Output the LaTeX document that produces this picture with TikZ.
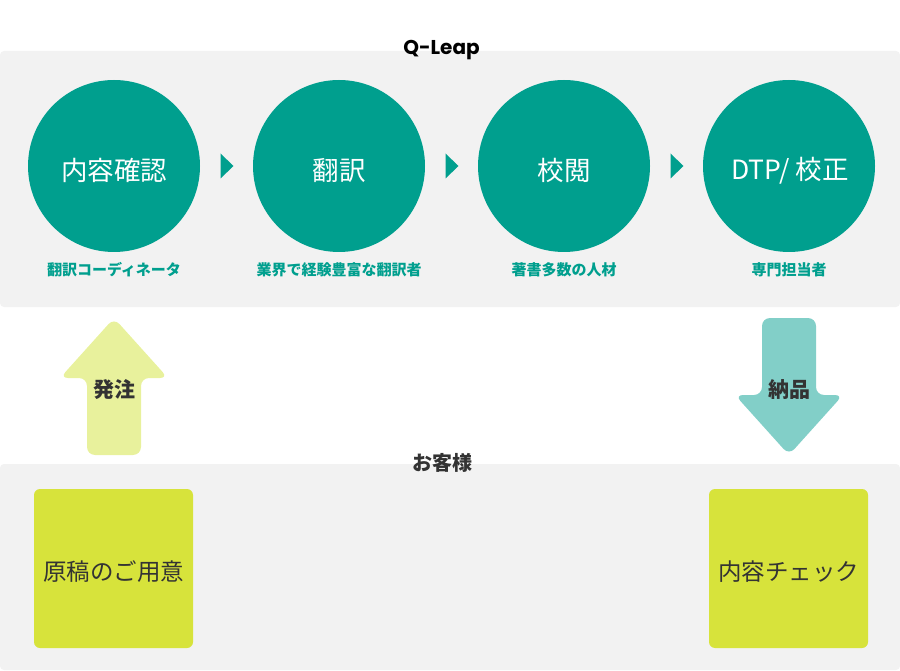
\documentclass[tikz,border=0pt]{standalone}
\usepackage{fontspec}
\setmainfont{Noto Sans CJK JP}
\newfontfamily\latinfont{Poppins}
\usetikzlibrary{calc}
\definecolor{teal1}{HTML}{009F8E}
\definecolor{tealL}{HTML}{82CFC8}
\definecolor{yelL}{HTML}{E8F19C}
\definecolor{yelB}{HTML}{D7E33B}
\definecolor{panelbg}{HTML}{F2F2F2}
\definecolor{darktxt}{HTML}{333333}
\tikzset{
  panel/.style={fill=panelbg, draw=none, rounded corners=4pt},
  stepcircle/.style={circle, fill=teal1, minimum size=172pt, inner sep=0pt},
  steptext/.style={text=white, inner sep=0pt, font=\fontsize{26.5}{30}\selectfont},
  sublabel/.style={text=teal1, font=\bfseries\fontsize{15}{18}\selectfont, inner sep=0pt},
  title/.style={text=black, font=\bfseries\fontsize{20}{24}\selectfont, inner sep=0pt},
  custbox/.style={fill=yelB, rounded corners=6pt, minimum size=159pt, inner sep=0pt},
  custtext/.style={text=darktxt, inner sep=0pt, font=\fontsize{23.5}{28}\selectfont},
  arrowlabel/.style={text=darktxt, font=\bfseries\fontsize{21}{24}\selectfont, inner sep=0pt},
  tri/.style={fill=teal1, draw=none},
}
\begin{document}
\begin{tikzpicture}[x=1pt, y=-1pt]
\useasboundingbox (0,0) rectangle (900,671);
% panels
\path[panel] (0,51) rectangle (900,307);
\path[panel] (0,464) rectangle (900,670);
\node[title] (qleap) at (441.5,50) {\latinfont\bfseries Q-Leap};
\node[title, text=darktxt] (cust) at (442,463) {お客様};
% circles
\node[stepcircle] (c1) at (114,166) {};
\node[stepcircle] (c2) at (339,166) {};
\node[stepcircle] (c3) at (564,166) {};
\node[stepcircle] (c4) at (789,166) {};
\node[steptext] (t1) at (114,170.5) {内容確認};
\node[steptext] (t2) at (339,170.5) {翻訳};
\node[steptext] (t3) at (564,170.5) {校閲};
\node[steptext] (t4) at (790,170.5) {DTP/ 校正};
\node[sublabel] (s1) at (114,270) {翻訳コーディネータ};
\node[sublabel] (s2) at (339,270) {業界で経験豊富な翻訳者};
\node[sublabel] (s3) at (564,270) {著書多数の人材};
\node[sublabel] (s4) at (789,270) {専門担当者};
% small triangles between circles
\foreach \a/\b [count=\i] in {c1/c2,c2/c3,c3/c4}{
  \coordinate (m\i) at ($(\a.east)!0.5!(\b.west)$);
  \path[tri] ($(m\i)+(-6,-12.5)$) -- ($(m\i)+(7,0)$) -- ($(m\i)+(-6,12.5)$) -- cycle;
}
% customer boxes
\node[custbox] (b1) at (113.5,568.5) {};
\node[custbox] (b2) at (788.5,568.5) {};
\node[custtext] (bt1) at (113.5,572) {原稿のご用意};
\node[custtext] (bt2) at (788.5,572) {内容チェック};
% up arrow (order)
\coordinate (ua) at (114,318);
\path[fill=yelL, rounded corners=8pt]
  ($(ua)+(-27,137)$) -- ($(ua)+(-27,60)$) -- ($(ua)+(-54,60)$) -- (ua) --
  ($(ua)+(54,60)$) -- ($(ua)+(27,60)$) -- ($(ua)+(27,137)$) -- cycle;
\node[arrowlabel] (order) at (114,390) {発注};
% down arrow (delivery)
\coordinate (da) at (789,455);
\path[fill=tealL, rounded corners=8pt]
  ($(da)+(-27,-137)$) -- ($(da)+(27,-137)$) -- ($(da)+(27,-60)$) -- ($(da)+(54,-60)$) --
  (da) -- ($(da)+(-54,-60)$) -- ($(da)+(-27,-60)$) -- cycle;
\node[arrowlabel] (deliv) at (789,390) {納品};
\end{tikzpicture}
\end{document}
